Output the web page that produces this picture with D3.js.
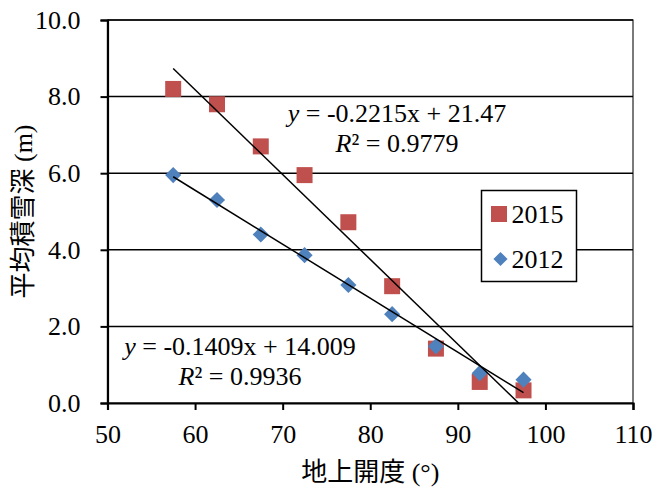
<!DOCTYPE html>
<html>
<head>
<meta charset="utf-8">
<script src="https://cdn.jsdelivr.net/npm/d3@7"></script>
<style>
  body { margin: 0; background: #fff; }
  text { font-family: "Liberation Serif", "Noto Sans CJK JP", serif; fill: #000; }
</style>
</head>
<body>
<svg id="chart"></svg>
<script>
// Chart data
const openness = [57.5, 62.5, 67.5, 72.5, 77.5, 82.5, 87.5, 92.5, 97.5];
const snow2015 = [8.2, 7.8, 6.7, 5.95, 4.72, 3.05, 1.42, 0.55, 0.33];
const snow2012 = [5.95, 5.3, 4.4, 3.86, 3.08, 2.32, 1.48, 0.78, 0.61];
const seriesNames = ["2015", "2012"];
const slopes = [-0.2215, -0.1409];
const intercepts = [21.47, 14.009];
const eqLabels = ["-0.2215x + 21.47", "-0.1409x + 14.009"];
const r2Labels = ["0.9779", "0.9936"];
const xTicks = [50, 60, 70, 80, 90, 100, 110];
const yTicks = [0, 2, 4, 6, 8, 10];

const W = 655, H = 491;
const margin = { top: 20, right: 22, bottom: 88, left: 107.5 };
const red = "#C0504D";
const blue = "#4F81BD";

const svg = d3.select("#chart").attr("width", W).attr("height", H);

const x = d3.scaleLinear().domain([50, 110]).range([margin.left, W - margin.right]);
const y = d3.scaleLinear().domain([0, 10]).range([H - margin.bottom, margin.top]);

svg.append("defs").append("clipPath").attr("id", "plot-clip")
  .append("rect")
  .attr("x", x(50)).attr("y", y(10))
  .attr("width", x(110) - x(50)).attr("height", y(0) - y(10));

// plot border + gridlines
svg.append("rect")
  .attr("x", x(50)).attr("y", y(10))
  .attr("width", x(110) - x(50)).attr("height", y(0) - y(10))
  .attr("fill", "none").attr("stroke", "#222").attr("stroke-width", 1.2);

svg.append("g")
  .selectAll("line")
  .data(yTicks.filter((d) => d > 0))
  .enter()
  .append("line")
  .attr("x1", x(50)).attr("x2", x(110))
  .attr("y1", (d) => y(d)).attr("y2", (d) => y(d))
  .attr("stroke", "#000").attr("stroke-width", 1.5);

// axes
const xAxis = svg.append("g")
  .attr("transform", `translate(0,${y(0)})`)
  .call(d3.axisBottom(x).tickValues(xTicks).tickSize(7).tickPadding(15).tickFormat(d3.format("d")));
const yAxis = svg.append("g")
  .attr("transform", `translate(${x(50)},0)`)
  .call(d3.axisLeft(y).tickValues(yTicks).tickSize(7).tickPadding(20).tickFormat(d3.format(".1f")));
[xAxis, yAxis].forEach((a) => {
  a.attr("font-family", null).attr("font-size", null);
  a.select(".domain").attr("stroke", "#000").attr("stroke-width", 2.2);
  a.selectAll(".tick line").attr("stroke", "#000").attr("stroke-width", 2);
  a.selectAll(".tick text").attr("font-size", 26).attr("fill", "#000");
});
xAxis.selectAll(".tick text").attr("dy", "0.71em");

// markers
const square = d3.symbol().type(d3.symbolSquare).size(256);
const diamond = d3.symbol().type(d3.symbolSquare).size(130);

svg.append("g")
  .selectAll("path")
  .data(openness.map((d, i) => [d, snow2015[i]]))
  .enter()
  .append("path")
  .attr("d", square)
  .attr("fill", red)
  .attr("transform", (d) => `translate(${x(d[0])},${y(d[1])})`);

svg.append("g")
  .selectAll("path")
  .data(openness.map((d, i) => [d, snow2012[i]]))
  .enter()
  .append("path")
  .attr("d", diamond)
  .attr("fill", blue)
  .attr("transform", (d) => `translate(${x(d[0])},${y(d[1])}) rotate(45)`);

// trendlines
const xMin = d3.min(openness), xMax = d3.max(openness);
svg.append("g")
  .attr("clip-path", "url(#plot-clip)")
  .selectAll("line")
  .data(slopes.map((s, i) => ({ s, b: intercepts[i] })))
  .enter()
  .append("line")
  .attr("x1", x(xMin)).attr("y1", (d) => y(d.s * xMin + d.b))
  .attr("x2", x(xMax)).attr("y2", (d) => y(d.s * xMax + d.b))
  .attr("stroke", "#000").attr("stroke-width", 1.5);

// equations
const eqPos = [[397, 122], [240, 355]];
eqPos.forEach(([cx, cy], i) => {
  const t1 = svg.append("text").attr("x", cx).attr("y", cy)
    .attr("text-anchor", "middle").attr("font-size", 26);
  t1.append("tspan").attr("font-style", "italic").text("y");
  t1.append("tspan").text(" = " + eqLabels[i]);
  const t2 = svg.append("text").attr("x", cx).attr("y", cy + 30)
    .attr("text-anchor", "middle").attr("font-size", 26);
  t2.append("tspan").attr("font-style", "italic").text("R");
  t2.append("tspan").text("² = " + r2Labels[i]);
});

// legend
const lg = svg.append("g").attr("transform", "translate(481.5,190.5)");
lg.append("rect").attr("width", 95).attr("height", 91)
  .attr("fill", "#fff").attr("stroke", "#000").attr("stroke-width", 1.5);
lg.append("path").attr("d", square).attr("fill", red).attr("transform", "translate(17.5,23.5)");
lg.append("path").attr("d", d3.symbol().type(d3.symbolSquare).size(100)).attr("fill", blue)
  .attr("transform", "translate(19,68.5) rotate(45)");
seriesNames.forEach((n, i) => {
  lg.append("text").attr("x", 30).attr("y", 32.5 + i * 44.5).attr("font-size", 26).text(n);
});

// axis titles
svg.append("text")
  .attr("x", (x(50) + x(110)) / 2).attr("y", 481)
  .attr("text-anchor", "middle").attr("font-size", 26)
  .text("地上開度 (°)");
svg.append("text")
  .attr("transform", `translate(32,${(y(0) + y(10)) / 2}) rotate(-90)`)
  .attr("text-anchor", "middle").attr("font-size", 26)
  .text("平均積雪深 (m)");
</script>
</body>
</html>
